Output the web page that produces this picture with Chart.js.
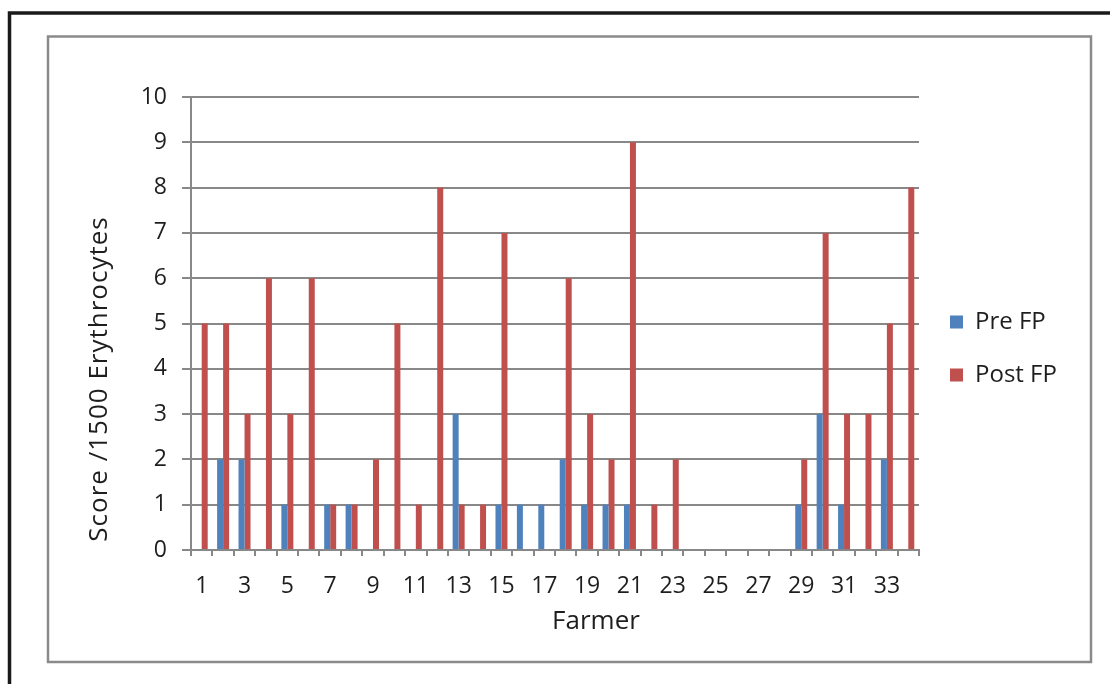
<!DOCTYPE html>
<html>
<head>
<meta charset="utf-8">
<title>Score per 1500 erythrocytes, pre and post FP</title>
<script src="https://cdn.jsdelivr.net/npm/chart.js@4/dist/chart.umd.min.js"></script>
<style>
  html, body { margin: 0; padding: 0; background: #ffffff; overflow: hidden; }
  canvas { display: block; }
</style>
</head>
<body>
<canvas id="chart" width="1110" height="684"></canvas>
<script>
// Farmer IDs (x categories)
const farmers = ['1','2','3','4','5','6','7','8','9','10','11','12','13','14','15','16','17',
                 '18','19','20','21','22','23','24','25','26','27','28','29','30','31','32','33','34'];

// Scores per 1500 erythrocytes
const preFP  = [0,2,2,0,1,0,1,1,0,0,0,0,3,0,1,1,1,2,1,1,1,0,0,0,0,0,0,0,1,3,1,0,2,0];
const postFP = [5,5,3,6,3,6,1,1,2,5,1,8,1,1,7,0,0,6,3,2,9,1,2,0,0,0,0,0,2,7,3,3,5,8];

const seriesNames = ['Pre FP', 'Post FP'];
const xTitle = 'Farmer';
const yTitle = 'Score /1500 Erythrocytes';

const FONT = "'Open Sans', 'DejaVu Sans', sans-serif";
const GRID = '#888888';
const TEXT = '#1e1e1e';

// White page with the outer black corner frame and the grey chart border
const framePlugin = {
  id: 'frame',
  beforeDraw(chart) {
    const ctx = chart.ctx;
    ctx.save();
    ctx.fillStyle = '#ffffff';
    ctx.fillRect(0, 0, chart.width, chart.height);
    ctx.strokeStyle = '#8a8a8a';
    ctx.lineWidth = 2.5;
    ctx.strokeRect(48, 36.5, 1043, 625.5);
    ctx.strokeStyle = '#1a1a1a';
    ctx.lineWidth = 3.5;
    ctx.beginPath();
    ctx.moveTo(9.5, chart.height);
    ctx.lineTo(9.5, 13);
    ctx.lineTo(chart.width, 13);
    ctx.stroke();
    ctx.restore();
  }
};

// Legend and axis titles
const labelsPlugin = {
  id: 'sideLabels',
  afterDraw(chart) {
    const ctx = chart.ctx;
    ctx.save();
    // legend
    ctx.font = '24px ' + FONT;
    ctx.textAlign = 'left';
    ctx.textBaseline = 'middle';
    chart.data.datasets.forEach((ds, i) => {
      const cy = 322 + i * 53;
      ctx.fillStyle = ds.backgroundColor;
      ctx.fillRect(950, cy - 6.5, 13, 13);
      ctx.fillStyle = TEXT;
      ctx.fillText(ds.label, 975, cy);
    });
    // x title
    ctx.font = '26px ' + FONT;
    ctx.textAlign = 'center';
    ctx.textBaseline = 'alphabetic';
    ctx.fillText(xTitle, 596, 629);
    // y title
    ctx.translate(107, 379);
    ctx.rotate(-Math.PI / 2);
    if ('letterSpacing' in ctx) ctx.letterSpacing = '1px';
    ctx.fillText(yTitle, 0, 0);
    ctx.restore();
  }
};

new Chart(document.getElementById('chart'), {
  type: 'bar',
  data: {
    labels: farmers,
    datasets: [
      { label: seriesNames[0], data: preFP,  backgroundColor: '#4F81BD', borderWidth: 0 },
      { label: seriesNames[1], data: postFP, backgroundColor: '#C0504D', borderWidth: 0 }
    ]
  },
  options: {
    responsive: false,
    devicePixelRatio: 1,
    animation: false,
    events: [],
    layout: { padding: { left: 0, top: 97, right: 191, bottom: 64 } },
    datasets: { bar: { categoryPercentage: 0.56, barPercentage: 1.0 } },
    plugins: {
      legend: { display: false },
      tooltip: { enabled: false },
      title: { display: false }
    },
    scales: {
      x: {
        offset: true,
        afterFit(scale) { scale.height = 70; },
        grid: {
          offset: true,
          drawOnChartArea: false,
          drawTicks: true,
          tickLength: 6,
          color: GRID,
          lineWidth: 2
        },
        border: { display: true, color: GRID, width: 2 },
        ticks: {
          autoSkip: false,
          maxRotation: 0,
          minRotation: 0,
          padding: 17,
          color: TEXT,
          font: { family: FONT, size: 23 },
          callback(value, index) { return index % 2 === 0 ? farmers[index] : ''; }
        }
      },
      y: {
        min: 0,
        max: 10,
        afterFit(scale) { scale.width = 191; },
        grid: {
          drawOnChartArea: true,
          drawTicks: true,
          tickLength: 9,
          color: GRID,
          lineWidth: 2
        },
        border: { display: true, color: GRID, width: 2 },
        ticks: {
          stepSize: 1,
          padding: 15,
          color: TEXT,
          font: { family: FONT, size: 23 }
        }
      }
    }
  },
  plugins: [framePlugin, labelsPlugin]
});
</script>
</body>
</html>
